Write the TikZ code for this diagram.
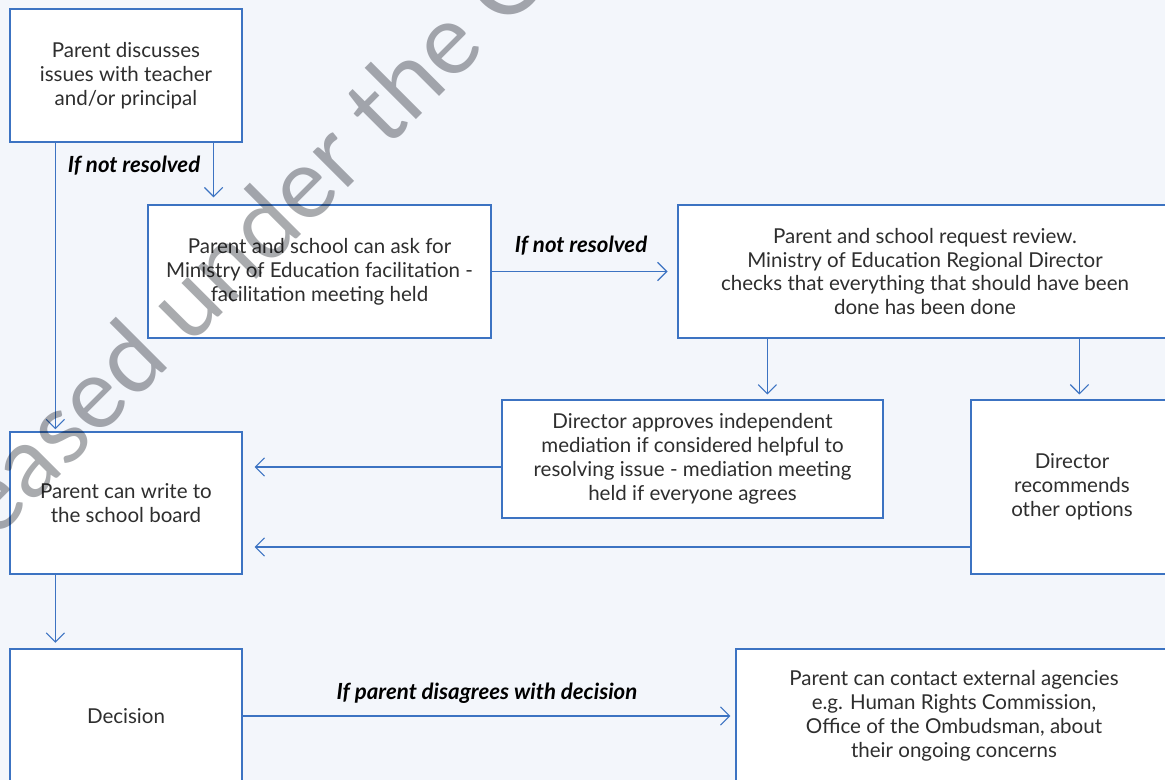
\documentclass[tikz,border=0pt]{standalone}
\usepackage{fontspec}
\setmainfont{Lato}
\usetikzlibrary{arrows.meta}
\definecolor{flowblue}{HTML}{3C73C2}
\definecolor{pagebg}{HTML}{F3F6FB}
\definecolor{inkgrey}{HTML}{2E2E2E}
\definecolor{stampgrey}{HTML}{A9ABAE}

\begin{document}
\begin{tikzpicture}[x=0.025cm, y=-0.025cm,
    stepbox/.style={draw=flowblue, fill=white, line width=0.8pt, align=center,
      text=inkgrey, inner sep=0pt, font=\fontsize{14.6}{17}\selectfont},
    flow/.style={draw=flowblue, line width=0.8pt, -{Straight Barb[length=6.5pt, width=13pt]}},
    cond/.style={font=\fontsize{15.8}{18}\selectfont\bfseries\itshape, text=black}]
  \useasboundingbox (0,0) rectangle (1165,780);
  \clip (0,0) rectangle (1165,780);
  \fill[pagebg] (0,0) rectangle (1165,780);

  % left column
  \node[stepbox, minimum width=5.8cm, minimum height=3.325cm] (talk) at (126,75.5)
    {Parent discusses\\issues with teacher\\and/or principal};
  \node[stepbox, minimum width=5.8cm, minimum height=3.55cm] (board) at (126,503)
    {Parent can write to\\the school board};
  \node[stepbox, minimum width=5.8cm, minimum height=3.35cm] (verdict) at (126,716)
    {Decision};

  % ministry steps
  \node[stepbox, minimum width=8.575cm, minimum height=3.325cm] (meet) at (319.5,271.5)
    {Parent and school can ask for\\Ministry of Education facilitation -\\facilitation meeting held};
  \node[stepbox, minimum width=12.35cm, minimum height=3.325cm] (review) at (925,271.5)
    {Parent and school request review.\\Ministry of Education Regional Director\\checks that everything that should have been\\done has been done};
  \node[stepbox, minimum width=9.525cm, minimum height=2.95cm] (mediate) at (692.5,459)
    {Director approves independent\\mediation if considered helpful to\\resolving issue - mediation meeting\\held if everyone agrees};
  \node[stepbox, minimum width=5.05cm, minimum height=4.35cm] (options) at (1072,487)
    {Director\\recommends\\other options};
  \node[stepbox, minimum width=10.9cm, minimum height=3.35cm] (agencies) at (954,716)
    {Parent can contact external agencies\\e.g. Human Rights Commission,\\Office of the Ombudsman, about\\their ongoing concerns};

  % connectors
  \draw[flow, shorten >=1.5pt] ([xshift=1.15cm]talk.south west) -- ([xshift=1.15cm]talk.south west |- board.north);
  \draw[flow, shorten >=5pt] ([xshift=-0.725cm]talk.south east) -- ([xshift=-0.725cm]talk.south east |- meet.north);
  \draw[flow, shorten >=7pt] (meet.east) -- (review.west);
  \draw[flow, shorten >=3.5pt] ([xshift=2.25cm]review.south west) -- ([xshift=2.25cm]review.south west |- mediate.north);
  \draw[flow, shorten >=3.5pt] ([xshift=10.05cm]review.south west) -- ([xshift=10.05cm]review.south west |- options.north);
  \draw[flow, shorten >=8.5pt] ([yshift=-0.2cm]mediate.west) -- ([yshift=-0.2cm]mediate.west -| board.east);
  \draw[flow, shorten >=8.5pt] ([yshift=-1.5cm]options.west) -- ([yshift=-1.5cm]options.west -| board.east);
  \draw[flow, shorten >=4pt] ([xshift=1.15cm]board.south west) -- ([xshift=1.15cm]board.south west |- verdict.north);
  \draw[flow, shorten >=3.5pt] (verdict.east) -- (agencies.west);

  % conditions
  \node[cond] (nr1) at (134,166) {If not resolved};
  \node[cond] (nr2) at (581,246) {If not resolved};
  \node[cond] (nr3) at (487,693) {If parent disagrees with decision};

  % release stamp
  \node[text=stampgrey, blend mode=multiply, rotate=45, anchor=base west, inner sep=0pt,
    font=\fontsize{70}{70}\selectfont] (stamp) at (-100,636)
    {Released under the Official Information Act};
\end{tikzpicture}
\end{document}
